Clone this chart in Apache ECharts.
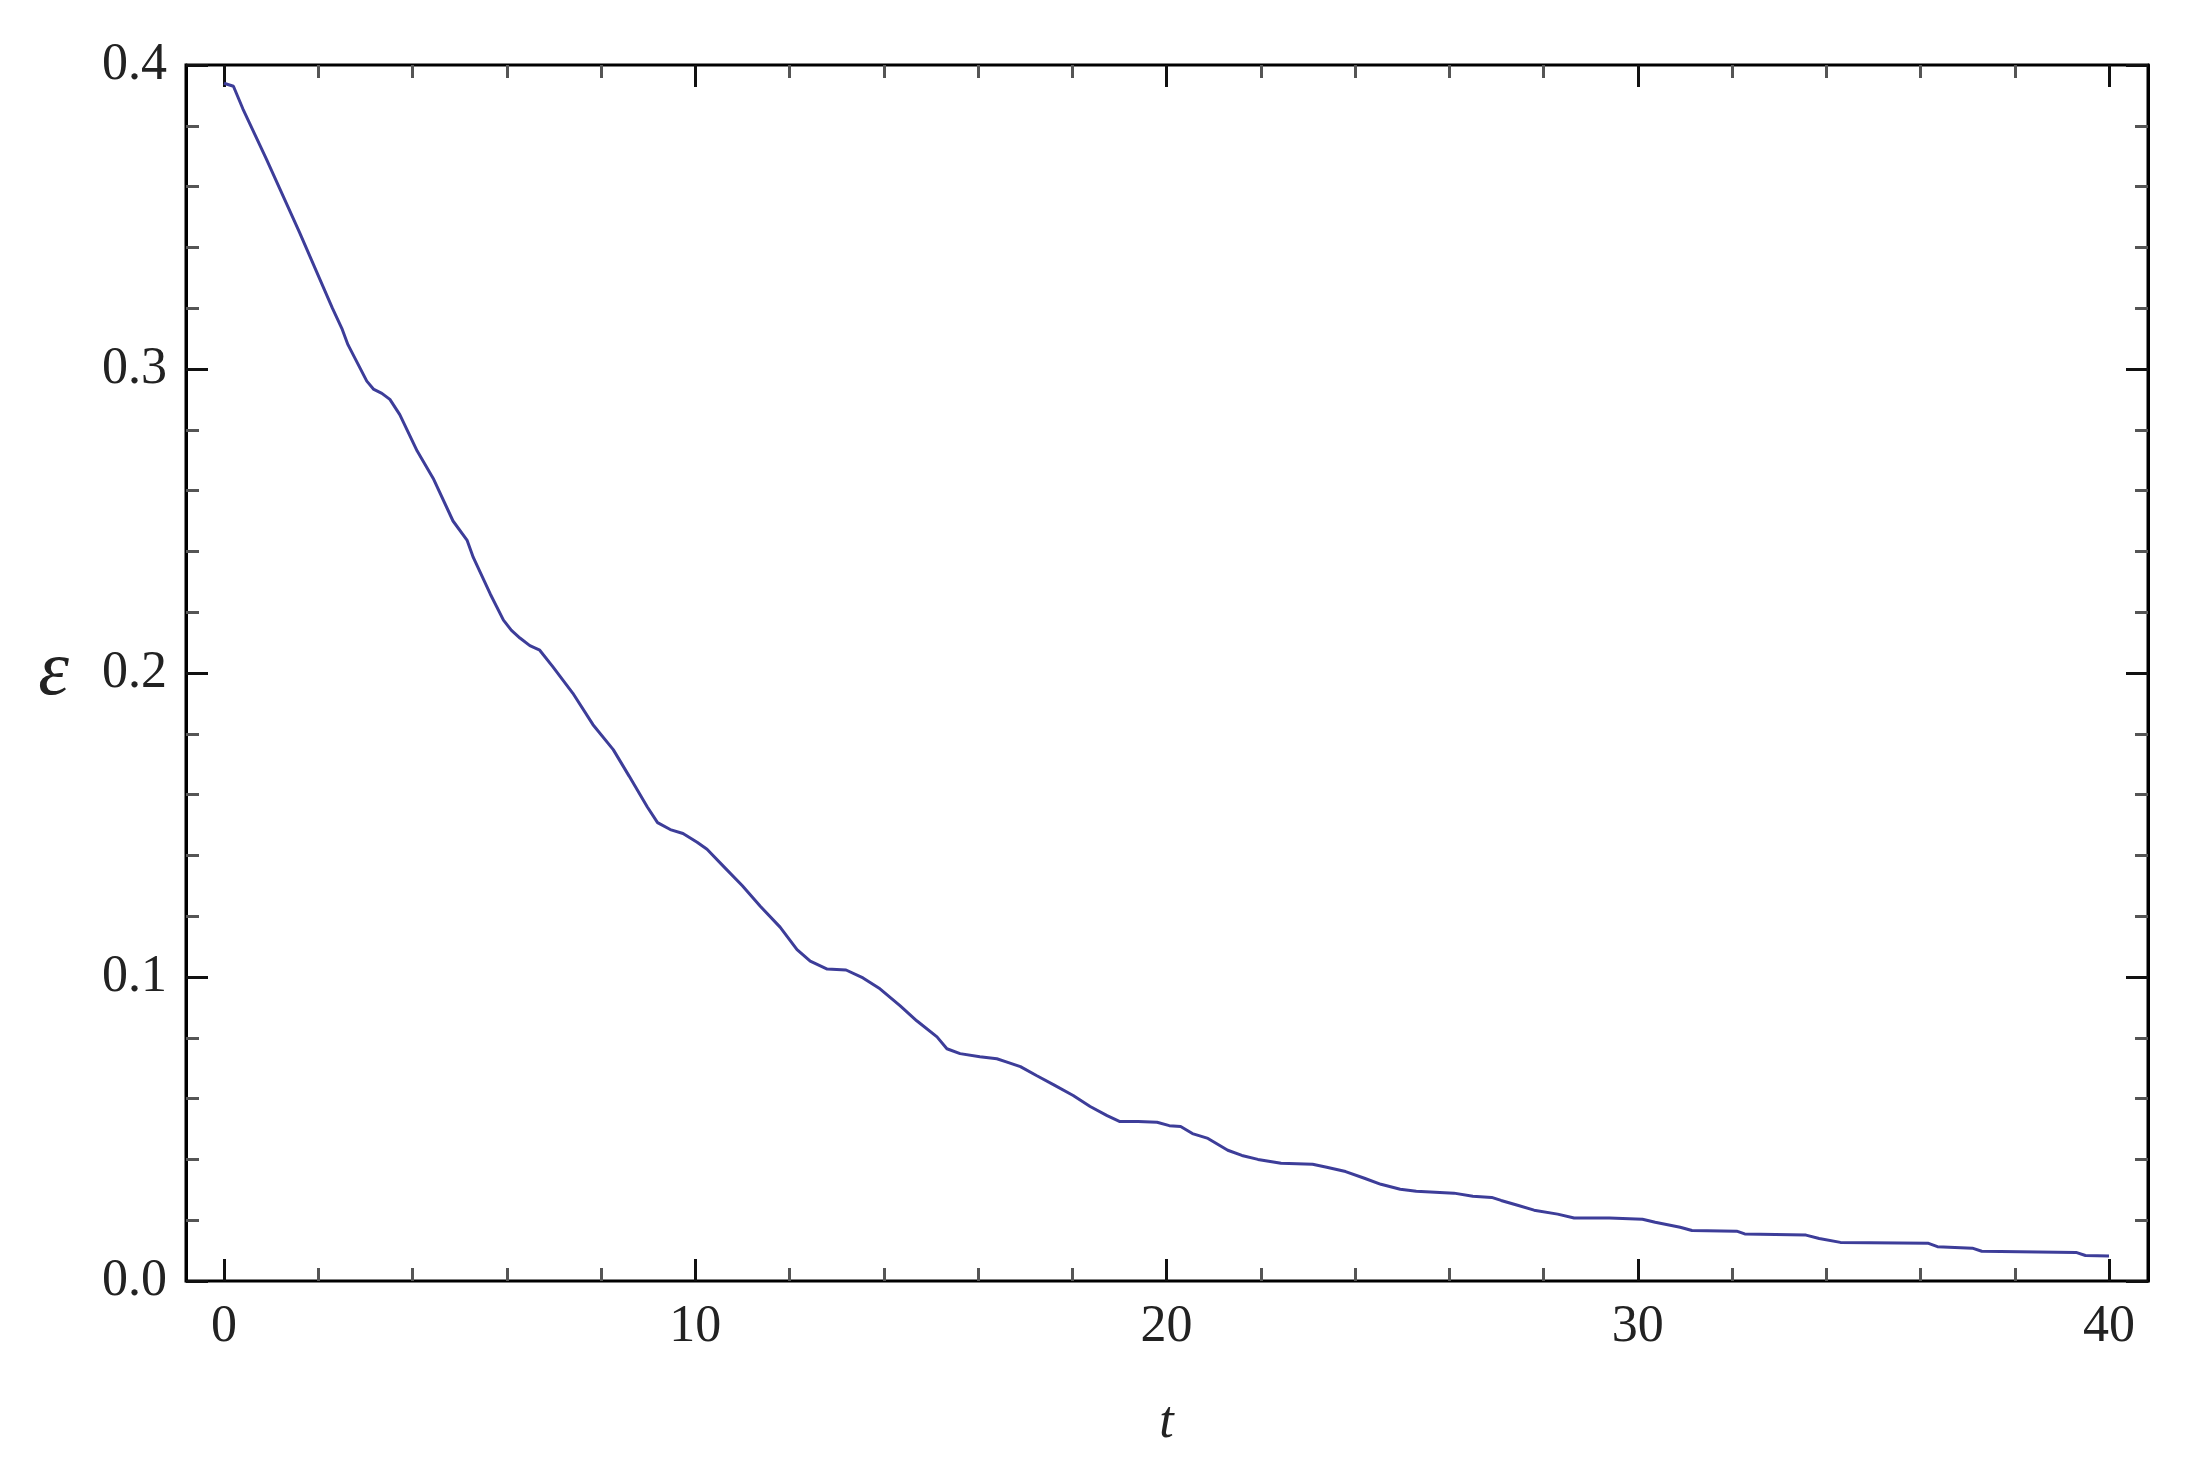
<!DOCTYPE html>
<html>
<head>
<meta charset="utf-8">
<script src="https://cdn.jsdelivr.net/npm/echarts@6/dist/echarts.min.js"></script>
<style>
  html, body { margin: 0; padding: 0; background: #fff; }
  #chart { width: 2185px; height: 1479px; }
</style>
</head>
<body>
<div id="chart"></div>
<script>
// curve
var tValues = [0.0, 0.2, 0.4, 0.9, 1.6, 2.3, 2.5, 2.63, 3.03, 3.17, 3.35, 3.52, 3.73, 4.1, 4.44, 4.86,
  5.16, 5.29, 5.65, 5.93, 6.1, 6.28, 6.49, 6.7, 6.98, 7.4, 7.83, 8.26, 8.6, 8.98, 9.2, 9.47, 9.74,
  10.04, 10.25, 10.6, 11.0, 11.38, 11.8, 12.16, 12.44, 12.8, 13.2, 13.56, 13.92, 14.35, 14.7, 15.13,
  15.34, 15.62, 16.04, 16.4, 16.6, 16.9, 17.25, 17.6, 18.02, 18.38, 18.74, 19.0, 19.4, 19.8, 20.06,
  20.3, 20.55, 20.88, 21.3, 21.6, 21.94, 22.43, 23.1, 23.4, 23.8, 24.2, 24.55, 24.96, 25.3, 26.1,
  26.5, 26.9, 27.1, 27.45, 27.8, 28.3, 28.65, 29.4, 30.1, 30.37, 30.9, 31.15, 32.1, 32.27, 33.57,
  33.85, 34.3, 36.17, 36.36, 37.1, 37.3, 39.3, 39.5, 40.0];
var epsValues = [0.394, 0.393, 0.3856, 0.369, 0.345, 0.320, 0.3134, 0.308, 0.296, 0.2934, 0.292, 0.290, 0.285, 0.273, 0.264, 0.250,
  0.2436, 0.238, 0.226, 0.2174, 0.214, 0.2115, 0.209, 0.2075, 0.202, 0.1934, 0.183, 0.1748, 0.166, 0.156, 0.1508, 0.1485, 0.1472,
  0.1443, 0.142, 0.1364, 0.130, 0.1233, 0.1164, 0.109, 0.1052, 0.1026, 0.1023, 0.0997, 0.0961, 0.0905, 0.0856, 0.0803,
  0.0764, 0.0748, 0.0738, 0.0731, 0.0721, 0.0705, 0.0675, 0.0646, 0.061, 0.0574, 0.0544, 0.0525, 0.0525, 0.0522, 0.0511,
  0.0508, 0.0485, 0.0469, 0.043, 0.0413, 0.040, 0.0387, 0.0384, 0.0374, 0.036, 0.0338, 0.0318, 0.0302, 0.0295, 0.0289,
  0.0279, 0.0275, 0.0265, 0.0249, 0.0233, 0.022, 0.0207, 0.0207, 0.0203, 0.0193, 0.0177, 0.0166, 0.0164, 0.0155, 0.0151,
  0.0140, 0.0127, 0.0124, 0.0113, 0.0108, 0.0098, 0.0094, 0.0084, 0.0082];

var xTickLabels = [0, 10, 20, 30, 40];
var yTickLabels = [0, 0.1, 0.2, 0.3, 0.4];

var serif = "'Liberation Serif', 'DejaVu Serif', serif";

var chart = echarts.init(document.getElementById("chart"));

function tickAxis(extra) {
  var base = {
    axisLine: { show: false },
    axisTick: { show: true, inside: true, length: 22, lineStyle: { color: "#111", width: 3 } },
    minorTick: { show: true, splitNumber: 5, length: 13, lineStyle: { color: "#555", width: 3 } },
    splitLine: { show: false },
    axisLabel: { show: false },
  };
  return Object.assign(base, extra);
}

chart.setOption({
  animation: false,
  backgroundColor: "#fff",
  grid: [
    // data area, 0..40 on x
    { left: 224, right: 76, top: 65, bottom: 198, show: false },
    // the frame
    { left: 186, right: 37, top: 65, bottom: 198, show: true, borderColor: "#000", borderWidth: 3, backgroundColor: "transparent" },
  ],
  xAxis: [
    tickAxis({
      type: "value", gridIndex: 0, position: "bottom", min: 0, max: 40, interval: 10,
      axisLabel: {
        show: true, customValues: xTickLabels, margin: 20, fontSize: 52, fontFamily: serif, color: "#222",
      },
      name: "t", nameLocation: "middle", nameGap: 116,
      nameTextStyle: { fontSize: 52, fontFamily: serif, fontStyle: "italic", color: "#222" },
    }),
    tickAxis({ type: "value", gridIndex: 0, position: "top", min: 0, max: 40, interval: 10 }),
    { type: "value", gridIndex: 1, show: false, min: 0, max: 1 },
  ],
  yAxis: [
    { type: "value", gridIndex: 0, show: false, min: 0, max: 0.4 },
    tickAxis({
      type: "value", gridIndex: 1, position: "left", min: 0, max: 0.4, interval: 0.1,
      axisLine: { show: true, lineStyle: { color: "#000", width: 3 } },
      axisLabel: {
        show: true, customValues: yTickLabels, margin: 19, fontSize: 52, fontFamily: serif, color: "#222",
        formatter: function (v) { return v.toFixed(1); },
      },
      name: "ε", nameLocation: "middle", nameRotate: 0, nameGap: 117,
      nameTextStyle: { fontSize: 78, fontFamily: serif, fontStyle: "italic", color: "#222" },
    }),
    tickAxis({
      type: "value", gridIndex: 1, position: "right", min: 0, max: 0.4, interval: 0.1,
      axisLine: { show: true, lineStyle: { color: "#000", width: 3 } },
    }),
  ],
  series: [
    {
      type: "line",
      xAxisIndex: 0,
      yAxisIndex: 0,
      data: tValues.map(function (t, i) { return [t, epsValues[i]]; }),
      showSymbol: false,
      smooth: false,
      lineStyle: { color: "#3d3d99", width: 3 },
    },
  ],
});
</script>
</body>
</html>
